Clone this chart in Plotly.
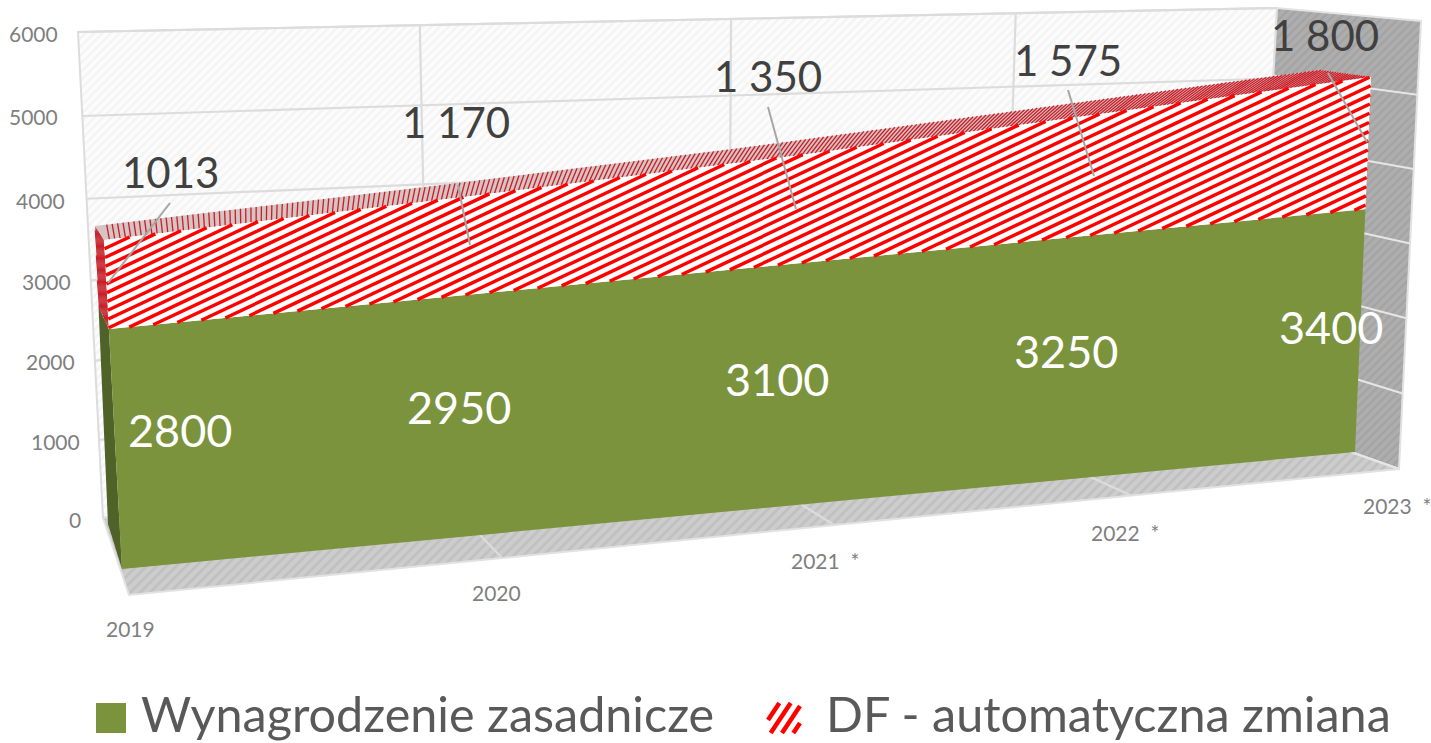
import numpy as np
import plotly.graph_objects as go

# ---- chart data ----
years = ["2019", "2020", "2021  *", "2022  *", "2023  *"]
base_pay = [2800, 2950, 3100, 3250, 3400]
df_change = [1013, 1170, 1350, 1575, 1800]
df_labels = ["1013", "1 170", "1 350", "1 575", "1 800"]
value_ticks = [0, 1000, 2000, 3000, 4000, 5000, 6000]
series_names = ["Wynagrodzenie zasadnicze", "DF - automatyczna zmiana"]

# ---- styles ----
W, H = 1431, 743
GREEN, GREEN_DK = "#7a933c", "#4f6228"
RED = "#ff0000"
FONT = "Lato"
totals = [a + b for a, b in zip(base_pay, df_change)]
n = len(years) - 1


def fit(src, dst):
    A, b = [], []
    for (u, v), (x, y) in zip(src, dst):
        A.append([u, v, 1, 0, 0, 0, -u * x, -v * x]); b.append(x)
        A.append([0, 0, 0, u, v, 1, -u * y, -v * y]); b.append(y)
    h = np.linalg.solve(np.array(A, float), np.array(b, float))
    return np.append(h, 1).reshape(3, 3)


def proj(M, u, v):
    p = M @ np.array([u, v, 1.0])
    return float(p[0] / p[2]), float(p[1] / p[2])


# perspective of the 3-D box: screen calibration of each plane
BACK_R0 = (1255, 418)
wall = fit([(0, 0), (n, 0), (n, 6000), (0, 6000)], [(103, 518), BACK_R0, (1277, 8), (78, 32)])
floor = fit([(0, 0), (n, 0), (n, 1), (0, 1)], [(103, 518), BACK_R0, (1399, 469), (129, 595)])
side = fit([(0, 0), (1, 0), (1, 6000), (0, 6000)], [BACK_R0, (1399, 469), (1421, 21), (1277, 8)])
front = fit([(0, 0), (n, 0), (n, totals[-1]), (0, totals[0])], [(122, 569), (1355, 452), (1371, 77), (104, 240)])
rear = fit([(0, 0), (n, 0), (n, totals[-1]), (0, totals[0])], [(108, 524), (1310, 437), (1320, 70), (95, 226)])


def clip_line(poly, p, d):
    """Parts of the infinite line p + s*d lying inside a polygon."""
    pts = np.array(poly, float)
    nx, ny = -d[1], d[0]
    hits = []
    for i in range(len(pts)):
        a, b = pts[i], pts[(i + 1) % len(pts)]
        f1 = (a[0] - p[0]) * nx + (a[1] - p[1]) * ny
        f2 = (b[0] - p[0]) * nx + (b[1] - p[1]) * ny
        if f1 * f2 < 0:
            hits.append(tuple(a + (b - a) * f1 / (f1 - f2)))
    hits.sort(key=lambda q: (q[0] - p[0]) * d[0] + (q[1] - p[1]) * d[1])
    xs, ys = [], []
    for a, b in zip(hits[::2], hits[1::2]):
        xs += [float(a[0]), float(b[0]), None]
        ys += [float(a[1]), float(b[1]), None]
    return xs, ys


def stripes(poly, slope, period):
    """Screen-space hatch lines y = c - slope*x clipped to a polygon."""
    pts = np.array(poly, float)
    cs = pts[:, 1] + slope * pts[:, 0]
    xs, ys = [], []
    c = cs.min()
    while c < cs.max():
        a, b = clip_line(poly, (0, c), (1, -slope))
        xs += a; ys += b
        c += period
    return xs, ys


def poly_trace(poly, color, name, pattern=None, line=None):
    xs = [p[0] for p in poly] + [poly[0][0]]
    ys = [p[1] for p in poly] + [poly[0][1]]
    kw = dict(fillpattern=pattern) if pattern else {}
    return go.Scatter(x=xs, y=ys, mode="lines", fill="toself", fillcolor=color, name=name,
                      line=line or dict(width=0), hoverinfo="skip", **kw)


def seg_trace(xs, ys, color, width, name):
    return go.Scatter(x=xs, y=ys, mode="lines", line=dict(color=color, width=width, simplify=False),
                      name=name, hoverinfo="skip", connectgaps=False)


fig = go.Figure()

# back wall, side wall, floor
wall_poly = [proj(wall, 0, 0), proj(wall, n, 0), proj(wall, n, 6000), proj(wall, 0, 6000)]
fig.add_trace(poly_trace(wall_poly, "#ffffff", "wall",
                         dict(shape="/", fgcolor="#ececec", bgcolor="#fcfcfc", size=6, solidity=0.4),
                         dict(color="#dcdcdc", width=2)))
side_poly = [proj(side, 0, 0), proj(side, 1, 0), proj(side, 1, 6000), proj(side, 0, 6000)]
fig.add_trace(poly_trace(side_poly, "#a6a6a6", "side wall",
                         dict(shape="/", fgcolor="#989898", bgcolor="#aeaeae", size=6, solidity=0.4),
                         dict(color="#e2e2e2", width=2)))
floor_poly = [proj(floor, 0, 0), proj(floor, n, 0), proj(floor, n, 1), proj(floor, 0, 1)]
fig.add_trace(poly_trace(floor_poly, "#c6c6c6", "floor",
                         dict(shape="/", fgcolor="#b4b4b4", bgcolor="#cdcdcd", size=7, solidity=0.4),
                         dict(color="#e2e2e2", width=2)))

# gridlines
gx, gy = [], []
for v in value_ticks:
    a, b = proj(wall, 0, v), proj(wall, n, v)
    gx += [a[0], b[0], None]; gy += [a[1], b[1], None]
for i in range(1, n):
    a, b = proj(wall, i, 0), proj(wall, i, 6000)
    gx += [a[0], b[0], None]; gy += [a[1], b[1], None]
for i in range(1, n):
    a, b = proj(floor, i, 0), proj(floor, i, 1)
    gx += [a[0], b[0], None]; gy += [a[1], b[1], None]
fig.add_trace(seg_trace(gx, gy, "#dcdcdc", 2.2, "gridlines"))
sx, sy = [], []
for v in value_ticks[:-1]:
    a, b = proj(side, 0, v), proj(side, 1, v)
    sx += [a[0], b[0], None]; sy += [a[1], b[1], None]
fig.add_trace(seg_trace(sx, sy, "#e6e6e6", 2, "side gridlines"))

idx = list(range(len(years)))
# left end of the solid
g_side = [proj(rear, 0, 0), proj(front, 0, 0), proj(front, 0, base_pay[0]), proj(rear, 0, base_pay[0])]
fig.add_trace(poly_trace(g_side, GREEN_DK, "base side"))
r_side = [proj(rear, 0, base_pay[0]), proj(front, 0, base_pay[0]), proj(front, 0, totals[0]), proj(rear, 0, totals[0])]
fig.add_trace(poly_trace(r_side, "#d9b4b4", "df side"))
xs, ys = stripes(r_side, -12, 12)
fig.add_trace(seg_trace(xs, ys, "#c8202a", 1.1, "df side hatch"))

# top of the solid
top_poly = [proj(front, i, totals[i]) for i in idx] + [proj(rear, i, totals[i]) for i in reversed(idx)]
fig.add_trace(poly_trace(top_poly, "#d4c4c4", "df top"))
tx, ty = [], []
for t in np.arange(0, 1.0, 0.0035):
    u = t * n
    f = proj(front, u, np.interp(u, idx, totals))
    a, b = clip_line(top_poly, (f[0] - 1 * (-3 + 30 * t), f[1] + 16), (-3 + 30 * t, -16))
    tx += a; ty += b
fig.add_trace(seg_trace(tx, ty, "#cc1c26", 1.3, "df top hatch"))

# front faces, drawn from the two series
green_poly = [proj(front, i, 0) for i in idx] + [proj(front, i, base_pay[i]) for i in reversed(idx)]
fig.add_trace(poly_trace(green_poly, GREEN, series_names[0]))
red_poly = [proj(front, i, base_pay[i]) for i in idx] + [proj(front, i, totals[i]) for i in reversed(idx)]
fig.add_trace(poly_trace(red_poly, "#ffffff", series_names[1]))
xs, ys = stripes(red_poly, 0.47, 9)
fig.add_trace(seg_trace(xs, ys, RED, 3.4, "hatch"))

# leader lines
lead_from = [(170, 203), (458, 185), (768, 107), (1068, 90), (1328, 73)]
lead_to = [(108, 283), (470, 245), (796, 209), (1094, 176), (1367, 142)]
lx, ly = [], []
for a, b in zip(lead_from, lead_to):
    lx += [a[0], b[0], None]; ly += [a[1], b[1], None]
fig.add_trace(seg_trace(lx, ly, "#a6a6a6", 2, "leaders"))

# legend swatches
sw1 = [(96, 703), (126, 703), (126, 733), (96, 733)]
sw2 = [(768, 703), (800, 703), (800, 733), (768, 733)]
fig.add_trace(poly_trace(sw1, GREEN, "legend 1"))
xs, ys = stripes(sw2, 1.5, 17)
fig.add_trace(seg_trace(xs, ys, RED, 4.5, "legend 2"))


def text(x, y, s, size, color, anchor="center"):
    fig.add_annotation(x=x, y=y, text=s, showarrow=False, xanchor=anchor, yanchor="middle",
                       font=dict(family=FONT, size=size, color=color), xref="x", yref="y")


for v, p in zip(value_ticks, [(75, 519), (55, 441), (50, 361), (46, 281), (40, 200), (33, 116), (33, 33)]):
    text(p[0], p[1], str(v), 21, "#7f7f7f")
for y_, p in zip(years, [(130, 628), (496, 592), (825, 560), (1125, 532), (1397, 505)]):
    text(p[0], p[1], y_, 21, "#7f7f7f")
for s, p in zip(df_labels, [(170, 172), (456, 122), (768, 76), (1068, 60), (1325, 35)]):
    text(p[0], p[1], s, 42, "#404040")
for v, p in zip(base_pay, [(180, 430), (459, 407), (777, 379), (1066, 351), (1331, 327)]):
    text(p[0], p[1], str(v), 45, "#ffffff")
text(139, 713, series_names[0], 48.5, "#595959", "left")
text(824, 713, series_names[1], 48.5, "#595959", "left")

fig.update_layout(
    width=W, height=H, margin=dict(l=0, r=0, t=0, b=0), showlegend=False,
    paper_bgcolor="#ffffff", plot_bgcolor="#ffffff", hovermode=False,
    xaxis=dict(range=[0, W], visible=False, fixedrange=True),
    yaxis=dict(range=[H, 0], visible=False, fixedrange=True),
)
fig.write_html("out.html", config={"displayModeBar": False},
               post_script="document.body.style.margin='0';document.body.style.overflow='hidden';")
